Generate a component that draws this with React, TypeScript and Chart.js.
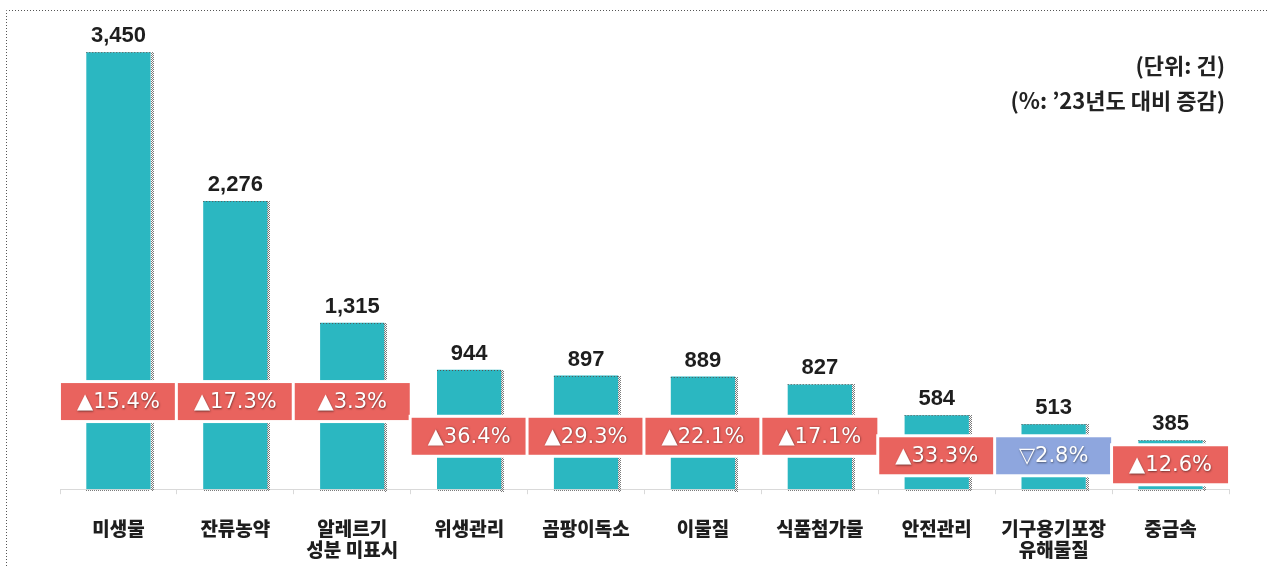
import React, { useEffect, useRef } from "react";
import { Chart, registerables } from "chart.js";

Chart.register(...registerables);

const categories: string[][] = [
  ["미생물"],
  ["잔류농약"],
  ["알레르기", "성분 미표시"],
  ["위생관리"],
  ["곰팡이독소"],
  ["이물질"],
  ["식품첨가물"],
  ["안전관리"],
  ["기구용기포장", "유해물질"],
  ["중금속"],
];

const counts: number[] = [3450, 2276, 1315, 944, 897, 889, 827, 584, 513, 385];

// % change vs. 2023
const changes: number[] = [15.4, 17.3, 3.3, 36.4, 29.3, 22.1, 17.1, 33.3, -2.8, 12.6];

// value level (in data units) on which each change badge is centred
const badgeLevels: number[] = [692, 692, 692, 418, 418, 418, 418, 264, 264, 193];

const unitNotes: string[] = ["(단위: 건)", "(%: ’23년도 대비 증감)"];

const BAR_COLOR = "#2BB7C1";
const UP_COLOR = "#E9635E";
const DOWN_COLOR = "#8EA6DE";

const W = 1268;
const H = 566;
const CANVAS_H = H + 24;

function changeLabel(v: number): string {
  return (v >= 0 ? "▲" : "▽") + Math.abs(v).toFixed(1) + "%";
}

let dotPattern: CanvasPattern | null = null;
function getDotPattern(ctx: CanvasRenderingContext2D): CanvasPattern | null {
  if (dotPattern) return dotPattern;
  const c = document.createElement("canvas");
  c.width = 2;
  c.height = 2;
  const g = c.getContext("2d")!;
  g.fillStyle = "#7a7a7a";
  g.fillRect(0, 0, 1, 1);
  g.fillRect(1, 1, 1, 1);
  dotPattern = ctx.createPattern(c, "repeat");
  return dotPattern;
}

const decorPlugin = {
  id: "decor",
  beforeDraw(chart: any) {
    const ctx: CanvasRenderingContext2D = chart.ctx;
    ctx.save();
    ctx.fillStyle = "#ffffff";
    ctx.fillRect(0, 0, chart.width, chart.height);
    ctx.strokeStyle = "#555555";
    ctx.lineWidth = 1;
    ctx.setLineDash([1, 2]);
    ctx.beginPath();
    ctx.moveTo(6.5, chart.height);
    ctx.lineTo(6.5, 10.5);
    ctx.lineTo(chart.width, 10.5);
    ctx.stroke();
    ctx.restore();
  },
  afterDatasetsDraw(chart: any) {
    const ctx: CanvasRenderingContext2D = chart.ctx;
    const meta = chart.getDatasetMeta(0);
    const yScale = chart.scales.y;
    ctx.save();
    const pat = getDotPattern(ctx);
    meta.data.forEach((bar: any, i: number) => {
      const p = bar.getProps(["x", "y", "base", "width"], true);
      const left = p.x - p.width / 2;
      const right = p.x + p.width / 2;
      // dotted shadow
      if (pat) {
        ctx.fillStyle = pat;
        ctx.fillRect(Math.round(right), Math.round(p.y), 3, Math.round(p.base - p.y) + 2);
        ctx.fillRect(Math.round(left), Math.round(p.base) + 1, Math.round(p.width), 1);
      }
      ctx.save();
      ctx.strokeStyle = "#555";
      ctx.setLineDash([1, 2]);
      ctx.lineWidth = 1;
      ctx.beginPath();
      ctx.moveTo(left, Math.round(p.y) + 0.5);
      ctx.lineTo(right, Math.round(p.y) + 0.5);
      ctx.stroke();
      ctx.restore();

      // value label
      ctx.font = "bold 22px 'Liberation Sans', Arial, sans-serif";
      ctx.textAlign = "center";
      ctx.textBaseline = "alphabetic";
      ctx.fillStyle = "#1e1e1e";
      ctx.fillText(counts[i].toLocaleString("en-US"), p.x, p.y - 10);

      // change badge
      const cy = yScale.getPixelForValue(badgeLevels[i]);
      const bw = 115;
      const bh = 37;
      const bx = p.x - bw / 2;
      const by = cy - bh / 2;
      ctx.fillStyle = "#ffffff";
      ctx.fillRect(bx - 3, by - 3, bw + 6, bh + 6);
      ctx.fillStyle = changes[i] >= 0 ? UP_COLOR : DOWN_COLOR;
      ctx.fillRect(bx, by, bw, bh);
      ctx.save();
      ctx.font = "21px 'DejaVu Sans', sans-serif";
      ctx.textAlign = "center";
      ctx.textBaseline = "middle";
      ctx.shadowColor = "rgba(0,0,0,0.5)";
      ctx.shadowBlur = 2;
      ctx.shadowOffsetX = 0.5;
      ctx.shadowOffsetY = 0.5;
      ctx.fillStyle = "#ffffff";
      ctx.fillText(changeLabel(changes[i]), p.x, cy + 1);
      ctx.restore();
    });

    // unit notes
    ctx.font = "bold 22px 'Noto Sans CJK KR', sans-serif";
    ctx.textAlign = "right";
    ctx.textBaseline = "middle";
    ctx.fillStyle = "#222222";
    ctx.fillText(unitNotes[0], 1225, 66);
    ctx.fillText(unitNotes[1], 1225, 101);
    ctx.restore();
  },
};

export default function App() {
  const ref = useRef<HTMLCanvasElement | null>(null);

  useEffect(() => {
    if (!ref.current) return;
    const chart = new Chart(ref.current, {
      type: "bar",
      data: {
        labels: categories,
        datasets: [
          {
            data: counts,
            backgroundColor: BAR_COLOR,
            borderWidth: 0,
            categoryPercentage: 1,
            barPercentage: 0.55,
          },
        ],
      },
      options: {
        animation: false,
        responsive: false,
        devicePixelRatio: 1,
        layout: { padding: { left: 60, right: 39, top: 8, bottom: 6 } },
        plugins: {
          legend: { display: false },
          tooltip: { enabled: false },
        },
        scales: {
          x: {
            offset: true,
            grid: {
              display: true,
              drawOnChartArea: false,
              drawTicks: true,
              tickLength: 5,
              color: "#d9d9d9",
              offset: true,
            },
            border: { display: true, color: "#d9d9d9" },
            ticks: {
              autoSkip: false,
              maxRotation: 0,
              padding: 24,
              color: "#1e1e1e",
              font: { family: "'Noto Sans CJK KR', sans-serif", size: 19, weight: "900", lineHeight: 1.1 },
            },
          },
          y: {
            display: false,
            min: 0,
            max: 3800,
          },
        },
      },
      plugins: [decorPlugin],
    });
    return () => chart.destroy();
  }, []);

  return (
    <div style={{ position: "fixed", left: 0, top: 0, width: W, height: H, overflow: "hidden", background: "#fff" }}>
      <canvas ref={ref} width={W} height={CANVAS_H} style={{ display: "block" }} />
    </div>
  );
}
